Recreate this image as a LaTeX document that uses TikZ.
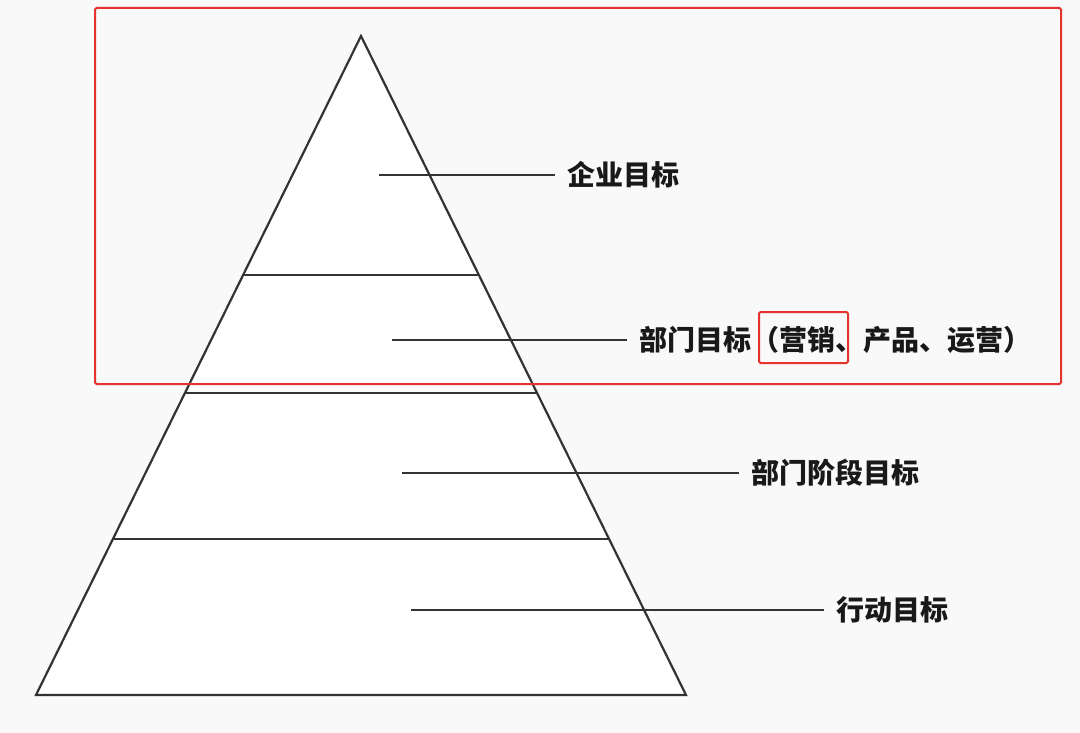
\documentclass[tikz,border=0pt]{standalone}
\usepackage{fontspec}
\newfontfamily\cjk{Noto Sans CJK SC}
\usetikzlibrary{calc}
\definecolor{inkgray}{HTML}{333333}
\definecolor{markred}{HTML}{E5322D}
\definecolor{paper}{HTML}{F9F9F9}

\begin{document}
\begin{tikzpicture}[x=1pt, y=-1pt,
        level/.style={draw=inkgray, line width=2.2pt},
        leader/.style={draw=inkgray, line width=1.6pt},
        tag/.style={anchor=west, inner sep=0pt, outer sep=12pt, text=black!90,
            font=\cjk\bfseries\fontsize{28}{32}\selectfont},
        frame/.style={draw=markred, line width=2pt, rounded corners=1.5pt}]
        \fill[paper] (0,0) rectangle (1080,733);
        \useasboundingbox (0,0) rectangle (1080,733);

        % pyramid
        \coordinate (top) at (361, 36);
        \coordinate (bl) at (36, 695);
        \coordinate (br) at (686, 695);
        \filldraw[fill=white, level] (top) -- (bl) -- (br) -- cycle;
        \draw[level] ($(top)!0.3627!(bl)$) -- ($(top)!0.3627!(br)$);
        \draw[level] ($(top)!0.5417!(bl)$) -- ($(top)!0.5417!(br)$);
        \draw[level] ($(top)!0.7633!(bl)$) -- ($(top)!0.7633!(br)$);

        % labels
        \node[tag] (corp) at (555, 175) {企业目标};
        \node[tag] (dept) at (627, 340) {部门目标（营销、产品、运营）};
        \node[tag] (stage) at (739, 473) {部门阶段目标};
        \node[tag] (act) at (824, 610) {行动目标};

        \coordinate (c1) at (379, 175);
        \coordinate (c2) at (392, 340);
        \coordinate (c3) at (402, 473);
        \coordinate (c4) at (411, 610);
        \draw[leader] (c1) -- (corp.west);
        \draw[leader] (c2) -- (dept.west);
        \draw[leader] (c3) -- (stage.west);
        \draw[leader] (c4) -- (act.west);

        % highlight boxes
        \draw[frame] (95, 8) rectangle (1061, 384);
        \draw[frame] (759, 312) rectangle (848, 363);
    \end{tikzpicture}
\end{document}
